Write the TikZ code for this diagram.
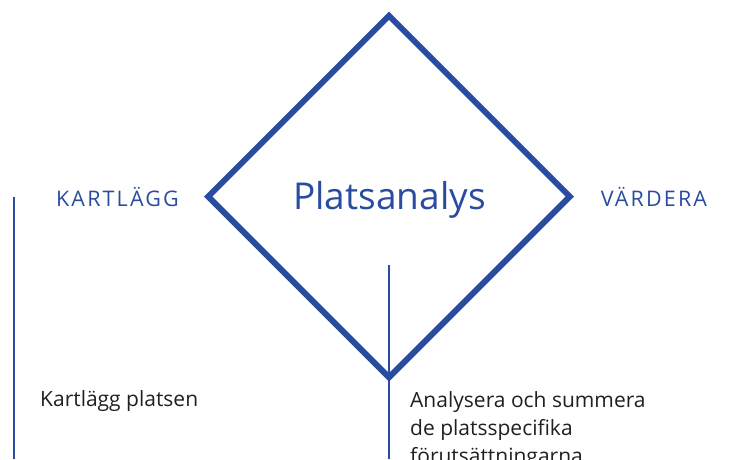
\documentclass[tikz,border=0pt]{standalone}
\usepackage{fontspec}
\setmainfont{Open Sans}
\usepackage{xcolor}
\usetikzlibrary{shapes.geometric}
\definecolor{platsblue}{RGB}{41,76,161}
\definecolor{textgray}{RGB}{35,31,32}

\begin{document}
\begin{tikzpicture}[x=1pt, y=-1pt,
    blueline/.style={draw=platsblue, line width=2.2pt},
    phase/.style={text=platsblue, font=\fontsize{21.5}{26}\selectfont\addfontfeatures{LetterSpace=10}, inner sep=0, anchor=base},
    step text/.style={text=textgray, font=\fontsize{21}{28}\selectfont, inner sep=0, anchor=base west, align=left}]
    \useasboundingbox (0,0) rectangle (740,459);
    \clip (0,0) rectangle (740,459);
    % Diamond
    \node[diamond, draw=platsblue, line width=6pt, minimum width=364pt, minimum height=364pt, inner sep=0] (ruta) at (389,196.5) {};
    \node[text=platsblue, font=\fontsize{37}{40}\selectfont, inner sep=0, anchor=base] (titel) at (389.5,209) {Platsanalys};
    % Phases
    \node[phase] (kartlagg) at (117.5,206) {KARTLÄGG};
    \node[phase] (vardera) at (654,206) {VÄRDERA};
    % Lines
    \coordinate (vanster topp) at (14,197);
    \coordinate (vanster fot) at (14,459);
    \coordinate (mitt topp) at (389,265);
    \coordinate (mitt fot) at (389,459);
    \draw[blueline] (vanster topp) -- (vanster fot);
    \draw[blueline] (mitt topp) -- (mitt fot);
    % Steps
    \node[step text] (steg1) at (40,406.5) {Kartlägg platsen};
    \node[step text] (steg2) at (410,463) {Analysera och summera\\de platsspecifika\\förutsättningarna};
\end{tikzpicture}
\end{document}
